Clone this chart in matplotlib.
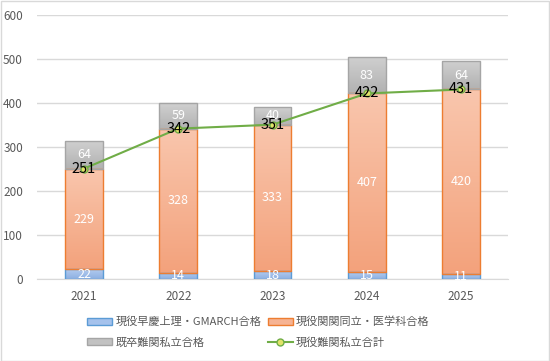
import numpy as np
import matplotlib
matplotlib.use("Agg")
import matplotlib.pyplot as plt
from matplotlib.patches import Patch, Rectangle
from matplotlib.lines import Line2D
from matplotlib.colors import LinearSegmentedColormap

plt.rcParams['font.family'] = ['Noto Sans CJK JP', 'DejaVu Sans']

years = ['2021', '2022', '2023', '2024', '2025']
gmarch = [22, 14, 18, 15, 11]
kankan = [229, 328, 333, 407, 420]
kisotsu = [64, 59, 40, 83, 64]
total_line = [251, 342, 351, 422, 431]

names = ['現役早慶上理・GMARCH合格', '現役関関同立・医学科合格', '既卒難関私立合格', '現役難関私立合計']

fig = plt.figure(figsize=(5.5, 3.61), dpi=100)
ax = fig.add_axes([0.067, 0.227, 0.857, 0.731])

x = np.arange(len(years))
w = 0.4
styles = [
    (gmarch, ('#b3cbef', '#8db0e2'), '#5b9bd5'),
    (kankan, ('#f9c6ad', '#f3a27c'), '#ed7d31'),
    (kisotsu, ('#d0d0d0', '#b2b2b2'), '#a5a5a5'),
]
bottom = np.zeros(len(years))
for vals, (ctop, cbot), ec in styles:
    vals = np.array(vals, dtype=float)
    bars = ax.bar(x, vals, w, bottom=bottom, facecolor='none', edgecolor=ec, linewidth=1.0, zorder=3)
    cmap = LinearSegmentedColormap.from_list('g', [cbot, ctop])
    grad = np.linspace(0, 1, 100).reshape(-1, 1)
    for b in bars:
        x0, y0 = b.get_x(), b.get_y()
        im = ax.imshow(grad, cmap=cmap, origin='lower', aspect='auto',
                       extent=[x0, x0 + b.get_width(), y0, y0 + b.get_height()], zorder=2)
        im.set_clip_path(b)
    for xi, bi, v in zip(x, bottom, vals):
        ax.text(xi, bi + v / 2, f'{int(v)}', ha='center', va='center', color='white', fontsize=9, zorder=6)
    bottom = bottom + vals

ax.plot(x, total_line, color='#70ad47', linewidth=1.5, marker='o', markersize=5,
        markerfacecolor='#e2e36a', markeredgecolor='#70ad47', zorder=4)
for xi, v in zip(x, total_line):
    ax.text(xi, v, f'{v}', ha='center', va='center', color='black', fontsize=10.5, zorder=7)

ax.set_xlim(-0.5, 4.5)
ax.set_ylim(0, 600)
ax.set_yticks(range(0, 601, 100))
ax.set_xticks(x)
ax.set_xticklabels(years)
ax.tick_params(axis='both', length=0, colors='#595959', labelsize=8.5)
ax.tick_params(axis='x', pad=8)
ax.tick_params(axis='y', pad=10)
for s in ax.spines.values():
    s.set_visible(False)
ax.spines['bottom'].set_visible(True)
ax.spines['bottom'].set_color('#d9d9d9')
ax.grid(axis='y', color='#d9d9d9', linewidth=1, zorder=0)
ax.set_axisbelow(True)

h_blue = Patch(facecolor='#a5c2ec', edgecolor='#5b9bd5')
h_orange = Patch(facecolor='#f6b393', edgecolor='#ed7d31')
h_gray = Patch(facecolor='#c2c2c2', edgecolor='#a5a5a5')
h_line = Line2D([0], [0], color='#70ad47', linewidth=1.5, marker='o', markersize=5,
                markerfacecolor='#e2e36a', markeredgecolor='#70ad47')
handles = [h_blue, h_gray, h_orange, h_line]
labels = [names[0], names[2], names[1], names[3]]
fig.legend(handles, labels, loc='center', bbox_to_anchor=(0.47, 0.080), ncol=2, frameon=False,
           fontsize=8, labelcolor='#595959', handlelength=2.25, handleheight=0.6,
           columnspacing=0.55, handletextpad=0.3, labelspacing=0.9)

fig.add_artist(Rectangle((0.001, 0.001), 0.997, 0.996, transform=fig.transFigure,
                         fill=False, edgecolor='#d9d9d9', linewidth=1))

fig.savefig('out.png', dpi=100)
